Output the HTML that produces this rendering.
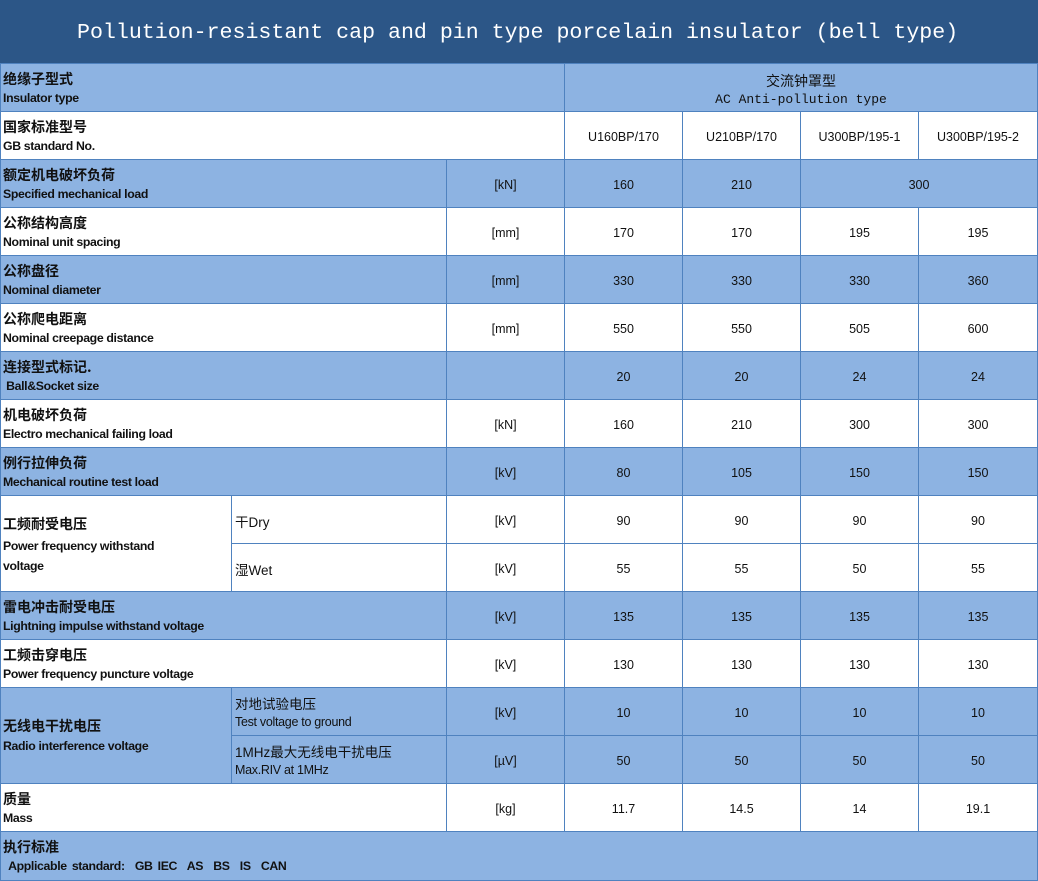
<!DOCTYPE html>
<html><head><meta charset="utf-8"><style>
*{margin:0;padding:0}
body{width:1038px;height:881px;background:#fff;position:relative;overflow:hidden;font-family:"Liberation Sans","Noto Sans CJK SC",sans-serif;color:#111}
.h{position:absolute;left:0;top:0;width:1038px;height:64px;background:#2c5687}
.h span{position:absolute;left:77px;top:21px;font:21.6px "Liberation Mono","DejaVu Sans Mono",monospace;color:#fff;white-space:nowrap}
.c{position:absolute;box-sizing:border-box;border-right:1px solid #4f82bf;border-bottom:1px solid #4f82bf;overflow:hidden}
.b{background:#8db3e2}
.w{background:#fff}
.zh{position:absolute;left:3px;font:bold 14px "Noto Sans CJK SC",sans-serif;white-space:nowrap}
.en{position:absolute;left:3px;font:bold 12.3px "Liberation Sans",sans-serif;letter-spacing:-0.35px;white-space:nowrap}
.sz{position:absolute;left:3px;font:13.5px "Liberation Sans","Noto Sans CJK SC",sans-serif;white-space:nowrap}
.se{position:absolute;left:3px;font:12.5px "Liberation Sans",sans-serif;letter-spacing:-0.3px;white-space:nowrap}
.v{display:flex;align-items:center;justify-content:center;font-size:12.5px;padding-top:3px}
</style></head><body>
<div class="h"><span>Pollution-resistant cap and pin type porcelain insulator (bell type)</span></div>
<div style="position:absolute;left:0;top:63px;width:1px;height:818px;background:#4f82bf;z-index:2"></div>
<div style="position:absolute;left:0;top:63px;width:1038px;height:1px;background:#4f82bf"></div>

<div class="c b" style="left:0;top:64px;width:565px;height:48px"><div class="zh" style="top:5px">绝缘子型式</div><div class="en" style="top:27px">Insulator type</div></div>
<div class="c b" style="left:565px;top:64px;width:473px;height:48px;text-align:center"><div style="position:absolute;left:0;right:0;top:7px;font:14px 'Noto Sans CJK SC',sans-serif">交流钟罩型</div><div style="position:absolute;left:0;right:0;top:28px;font:13px 'Liberation Mono',monospace">AC Anti-pollution type</div></div>

<div class="c w" style="left:0;top:112px;width:565px;height:48px"><div class="zh" style="top:5px">国家标准型号</div><div class="en" style="top:27px">GB standard No.</div></div>
<div class="c w v" style="left:565px;top:112px;width:118px;height:48px">U160BP/170</div>
<div class="c w v" style="left:683px;top:112px;width:118px;height:48px">U210BP/170</div>
<div class="c w v" style="left:801px;top:112px;width:118px;height:48px">U300BP/195-1</div>
<div class="c w v" style="left:919px;top:112px;width:119px;height:48px">U300BP/195-2</div>

<div class="c b" style="left:0;top:160px;width:447px;height:48px"><div class="zh" style="top:5px">额定机电破坏负荷</div><div class="en" style="top:27px">Specified mechanical load</div></div>
<div class="c b v" style="left:447px;top:160px;width:118px;height:48px">[kN]</div>
<div class="c b v" style="left:565px;top:160px;width:118px;height:48px">160</div>
<div class="c b v" style="left:683px;top:160px;width:118px;height:48px">210</div>
<div class="c b v" style="left:801px;top:160px;width:237px;height:48px">300</div>

<div class="c w" style="left:0;top:208px;width:447px;height:48px"><div class="zh" style="top:5px">公称结构高度</div><div class="en" style="top:27px">Nominal unit spacing</div></div>
<div class="c w v" style="left:447px;top:208px;width:118px;height:48px">[mm]</div>
<div class="c w v" style="left:565px;top:208px;width:118px;height:48px">170</div>
<div class="c w v" style="left:683px;top:208px;width:118px;height:48px">170</div>
<div class="c w v" style="left:801px;top:208px;width:118px;height:48px">195</div>
<div class="c w v" style="left:919px;top:208px;width:119px;height:48px">195</div>

<div class="c b" style="left:0;top:256px;width:447px;height:48px"><div class="zh" style="top:5px">公称盘径</div><div class="en" style="top:27px">Nominal diameter</div></div>
<div class="c b v" style="left:447px;top:256px;width:118px;height:48px">[mm]</div>
<div class="c b v" style="left:565px;top:256px;width:118px;height:48px">330</div>
<div class="c b v" style="left:683px;top:256px;width:118px;height:48px">330</div>
<div class="c b v" style="left:801px;top:256px;width:118px;height:48px">330</div>
<div class="c b v" style="left:919px;top:256px;width:119px;height:48px">360</div>

<div class="c w" style="left:0;top:304px;width:447px;height:48px"><div class="zh" style="top:5px">公称爬电距离</div><div class="en" style="top:27px">Nominal creepage distance</div></div>
<div class="c w v" style="left:447px;top:304px;width:118px;height:48px">[mm]</div>
<div class="c w v" style="left:565px;top:304px;width:118px;height:48px">550</div>
<div class="c w v" style="left:683px;top:304px;width:118px;height:48px">550</div>
<div class="c w v" style="left:801px;top:304px;width:118px;height:48px">505</div>
<div class="c w v" style="left:919px;top:304px;width:119px;height:48px">600</div>

<div class="c b" style="left:0;top:352px;width:447px;height:48px"><div class="zh" style="top:5px">连接型式标记.</div><div class="en" style="top:27px">&nbsp;Ball&amp;Socket size</div></div>
<div class="c b v" style="left:447px;top:352px;width:118px;height:48px"></div>
<div class="c b v" style="left:565px;top:352px;width:118px;height:48px">20</div>
<div class="c b v" style="left:683px;top:352px;width:118px;height:48px">20</div>
<div class="c b v" style="left:801px;top:352px;width:118px;height:48px">24</div>
<div class="c b v" style="left:919px;top:352px;width:119px;height:48px">24</div>

<div class="c w" style="left:0;top:400px;width:447px;height:48px"><div class="zh" style="top:5px">机电破坏负荷</div><div class="en" style="top:27px">Electro mechanical failing load</div></div>
<div class="c w v" style="left:447px;top:400px;width:118px;height:48px">[kN]</div>
<div class="c w v" style="left:565px;top:400px;width:118px;height:48px">160</div>
<div class="c w v" style="left:683px;top:400px;width:118px;height:48px">210</div>
<div class="c w v" style="left:801px;top:400px;width:118px;height:48px">300</div>
<div class="c w v" style="left:919px;top:400px;width:119px;height:48px">300</div>

<div class="c b" style="left:0;top:448px;width:447px;height:48px"><div class="zh" style="top:5px">例行拉伸负荷</div><div class="en" style="top:27px">Mechanical routine test load</div></div>
<div class="c b v" style="left:447px;top:448px;width:118px;height:48px">[kV]</div>
<div class="c b v" style="left:565px;top:448px;width:118px;height:48px">80</div>
<div class="c b v" style="left:683px;top:448px;width:118px;height:48px">105</div>
<div class="c b v" style="left:801px;top:448px;width:118px;height:48px">150</div>
<div class="c b v" style="left:919px;top:448px;width:119px;height:48px">150</div>

<div class="c w" style="left:0;top:496px;width:232px;height:96px"><div class="zh" style="top:18px">工频耐受电压</div><div class="en" style="top:40px;line-height:20px">Power frequency withstand<br>voltage</div></div>
<div class="c w" style="left:232px;top:496px;width:215px;height:48px"><div class="sz" style="top:15px">干Dry</div></div>
<div class="c w v" style="left:447px;top:496px;width:118px;height:48px">[kV]</div>
<div class="c w v" style="left:565px;top:496px;width:118px;height:48px">90</div>
<div class="c w v" style="left:683px;top:496px;width:118px;height:48px">90</div>
<div class="c w v" style="left:801px;top:496px;width:118px;height:48px">90</div>
<div class="c w v" style="left:919px;top:496px;width:119px;height:48px">90</div>
<div class="c w" style="left:232px;top:544px;width:215px;height:48px"><div class="sz" style="top:15px">湿Wet</div></div>
<div class="c w v" style="left:447px;top:544px;width:118px;height:48px">[kV]</div>
<div class="c w v" style="left:565px;top:544px;width:118px;height:48px">55</div>
<div class="c w v" style="left:683px;top:544px;width:118px;height:48px">55</div>
<div class="c w v" style="left:801px;top:544px;width:118px;height:48px">50</div>
<div class="c w v" style="left:919px;top:544px;width:119px;height:48px">55</div>

<div class="c b" style="left:0;top:592px;width:447px;height:48px"><div class="zh" style="top:5px">雷电冲击耐受电压</div><div class="en" style="top:27px">Lightning impulse withstand voltage</div></div>
<div class="c b v" style="left:447px;top:592px;width:118px;height:48px">[kV]</div>
<div class="c b v" style="left:565px;top:592px;width:118px;height:48px">135</div>
<div class="c b v" style="left:683px;top:592px;width:118px;height:48px">135</div>
<div class="c b v" style="left:801px;top:592px;width:118px;height:48px">135</div>
<div class="c b v" style="left:919px;top:592px;width:119px;height:48px">135</div>

<div class="c w" style="left:0;top:640px;width:447px;height:48px"><div class="zh" style="top:5px">工频击穿电压</div><div class="en" style="top:27px">Power frequency puncture voltage</div></div>
<div class="c w v" style="left:447px;top:640px;width:118px;height:48px">[kV]</div>
<div class="c w v" style="left:565px;top:640px;width:118px;height:48px">130</div>
<div class="c w v" style="left:683px;top:640px;width:118px;height:48px">130</div>
<div class="c w v" style="left:801px;top:640px;width:118px;height:48px">130</div>
<div class="c w v" style="left:919px;top:640px;width:119px;height:48px">130</div>

<div class="c b" style="left:0;top:688px;width:232px;height:96px"><div class="zh" style="top:28px">无线电干扰电压</div><div class="en" style="top:51px">Radio interference voltage</div></div>
<div class="c b" style="left:232px;top:688px;width:215px;height:48px"><div class="sz" style="top:5px">对地试验电压</div><div class="se" style="top:27px">Test voltage to ground</div></div>
<div class="c b v" style="left:447px;top:688px;width:118px;height:48px">[kV]</div>
<div class="c b v" style="left:565px;top:688px;width:118px;height:48px">10</div>
<div class="c b v" style="left:683px;top:688px;width:118px;height:48px">10</div>
<div class="c b v" style="left:801px;top:688px;width:118px;height:48px">10</div>
<div class="c b v" style="left:919px;top:688px;width:119px;height:48px">10</div>
<div class="c b" style="left:232px;top:736px;width:215px;height:48px"><div class="sz" style="top:5px">1MHz最大无线电干扰电压</div><div class="se" style="top:27px">Max.RIV at 1MHz</div></div>
<div class="c b v" style="left:447px;top:736px;width:118px;height:48px">[µV]</div>
<div class="c b v" style="left:565px;top:736px;width:118px;height:48px">50</div>
<div class="c b v" style="left:683px;top:736px;width:118px;height:48px">50</div>
<div class="c b v" style="left:801px;top:736px;width:118px;height:48px">50</div>
<div class="c b v" style="left:919px;top:736px;width:119px;height:48px">50</div>

<div class="c w" style="left:0;top:784px;width:447px;height:48px"><div class="zh" style="top:5px">质量</div><div class="en" style="top:27px">Mass</div></div>
<div class="c w v" style="left:447px;top:784px;width:118px;height:48px">[kg]</div>
<div class="c w v" style="left:565px;top:784px;width:118px;height:48px">11.7</div>
<div class="c w v" style="left:683px;top:784px;width:118px;height:48px">14.5</div>
<div class="c w v" style="left:801px;top:784px;width:118px;height:48px">14</div>
<div class="c w v" style="left:919px;top:784px;width:119px;height:48px">19.1</div>

<div class="c b" style="left:0;top:832px;width:1038px;height:49px"><div class="zh" style="top:5px">执行标准</div><div class="en" style="top:27px;word-spacing:2px">&nbsp;Applicable standard:&nbsp; GB IEC&nbsp; AS&nbsp; BS&nbsp; IS&nbsp; CAN</div></div>
</body></html>
